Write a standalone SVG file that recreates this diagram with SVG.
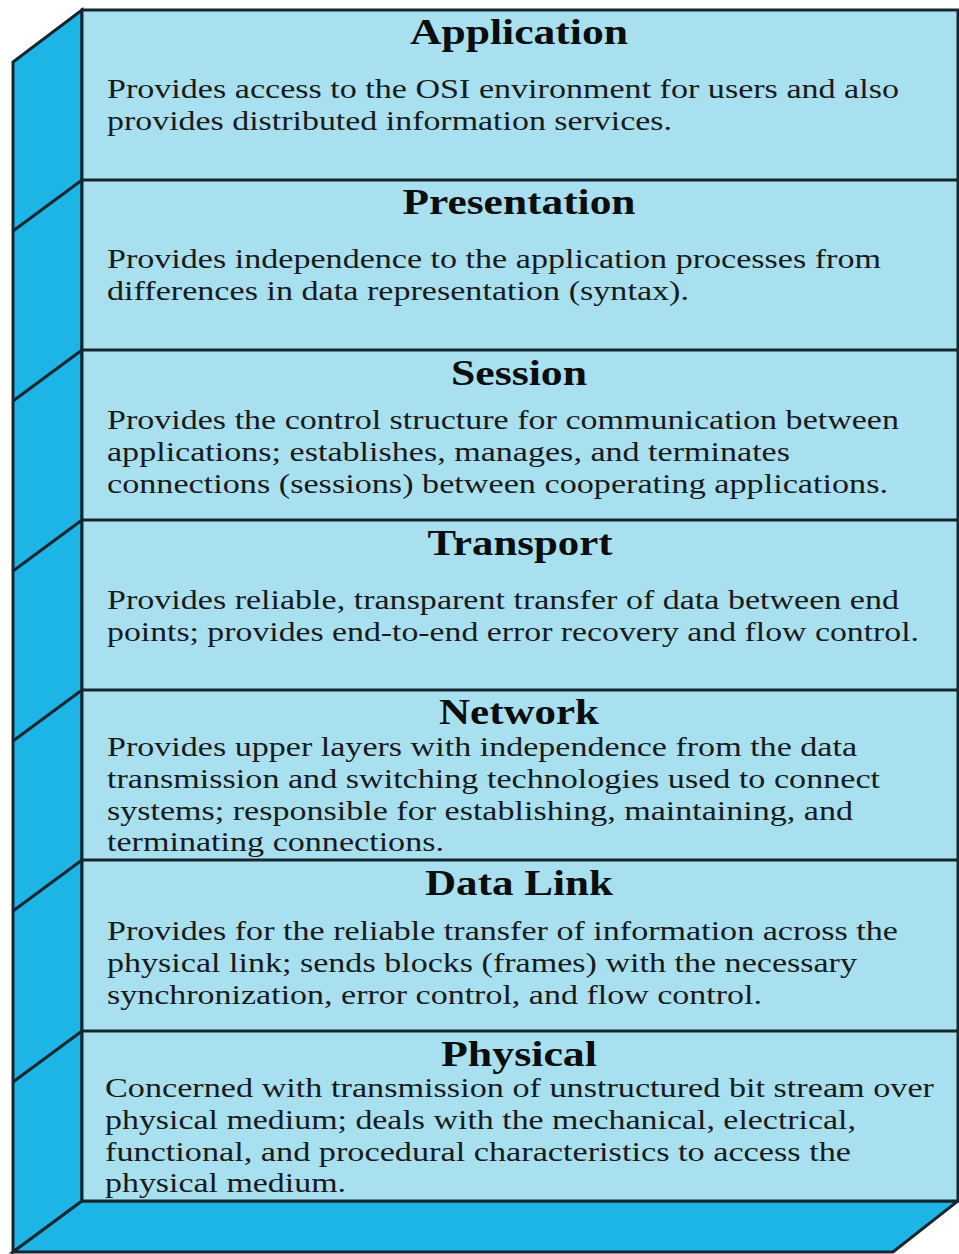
<svg xmlns="http://www.w3.org/2000/svg" width="959" height="1254" viewBox="0 0 959 1254">
<defs>
<style>
.front{fill:#a8e0f0;stroke:#16262e;stroke-width:3}
.side{fill:#1db4e6;stroke:#16262e;stroke-width:3;stroke-linejoin:miter}
.div{stroke:#16262e;stroke-width:3;fill:none}
.title{font-family:"Liberation Serif",serif;font-weight:bold;font-size:36px;fill:#0d0d0d;text-anchor:middle}
.body{font-family:"Liberation Serif",serif;font-size:26.5px;fill:#1a1a1a}
</style>
</defs>
<rect width="959" height="1254" fill="#ffffff"/>
<g id="box">
<polygon class="side" points="82,10 13,62 13,1252 82,1201"/>
<polygon class="side" points="82,1201 958,1201 893,1252 13,1252"/>
<rect class="front" x="82" y="10" width="876" height="1191"/>
</g>
<g id="connectors">
<line class="div" x1="82" y1="180" x2="13" y2="231"/>
<line class="div" x1="82" y1="350" x2="13" y2="401"/>
<line class="div" x1="82" y1="520" x2="13" y2="571"/>
<line class="div" x1="82" y1="690" x2="13" y2="741"/>
<line class="div" x1="82" y1="860" x2="13" y2="911"/>
<line class="div" x1="82" y1="1031" x2="13" y2="1082"/>
<line class="div" x1="82" y1="180" x2="958" y2="180"/>
<line class="div" x1="82" y1="350" x2="958" y2="350"/>
<line class="div" x1="82" y1="520" x2="958" y2="520"/>
<line class="div" x1="82" y1="690" x2="958" y2="690"/>
<line class="div" x1="82" y1="860" x2="958" y2="860"/>
<line class="div" x1="82" y1="1031" x2="958" y2="1031"/>
</g>
<g id="application">
<text class="title" x="519" y="44" textLength="218" lengthAdjust="spacingAndGlyphs">Application</text>
<text class="body" x="107" y="98" textLength="792" lengthAdjust="spacingAndGlyphs">Provides access to the OSI environment for users and also</text>
<text class="body" x="107" y="130" textLength="565" lengthAdjust="spacingAndGlyphs">provides distributed information services.</text>
</g>
<g id="presentation">
<text class="title" x="519" y="214" textLength="233" lengthAdjust="spacingAndGlyphs">Presentation</text>
<text class="body" x="107" y="268" textLength="774" lengthAdjust="spacingAndGlyphs">Provides independence to the application processes from</text>
<text class="body" x="107" y="300" textLength="582" lengthAdjust="spacingAndGlyphs">differences in data representation (syntax).</text>
</g>
<g id="session">
<text class="title" x="519" y="385" textLength="136" lengthAdjust="spacingAndGlyphs">Session</text>
<text class="body" x="107" y="429" textLength="792" lengthAdjust="spacingAndGlyphs">Provides the control structure for communication between</text>
<text class="body" x="107" y="461" textLength="683" lengthAdjust="spacingAndGlyphs">applications; establishes, manages, and terminates</text>
<text class="body" x="107" y="493" textLength="781" lengthAdjust="spacingAndGlyphs">connections (sessions) between cooperating applications.</text>
</g>
<g id="transport">
<text class="title" x="520" y="555" textLength="185" lengthAdjust="spacingAndGlyphs">Transport</text>
<text class="body" x="107" y="609" textLength="792" lengthAdjust="spacingAndGlyphs">Provides reliable, transparent transfer of data between end</text>
<text class="body" x="107" y="641" textLength="812" lengthAdjust="spacingAndGlyphs">points; provides end-to-end error recovery and flow control.</text>
</g>
<g id="network">
<text class="title" x="519" y="724" textLength="160" lengthAdjust="spacingAndGlyphs">Network</text>
<text class="body" x="107" y="756" textLength="750" lengthAdjust="spacingAndGlyphs">Provides upper layers with independence from the data</text>
<text class="body" x="107" y="788" textLength="773" lengthAdjust="spacingAndGlyphs">transmission and switching technologies used to connect</text>
<text class="body" x="107" y="820" textLength="746" lengthAdjust="spacingAndGlyphs">systems; responsible for establishing, maintaining, and</text>
<text class="body" x="107" y="851" textLength="337" lengthAdjust="spacingAndGlyphs">terminating connections.</text>
</g>
<g id="datalink">
<text class="title" x="519" y="895" textLength="188" lengthAdjust="spacingAndGlyphs">Data Link</text>
<text class="body" x="107" y="940" textLength="791" lengthAdjust="spacingAndGlyphs">Provides for the reliable transfer of information across the</text>
<text class="body" x="107" y="972" textLength="750" lengthAdjust="spacingAndGlyphs">physical link; sends blocks (frames) with the necessary</text>
<text class="body" x="107" y="1004" textLength="655" lengthAdjust="spacingAndGlyphs">synchronization, error control, and flow control.</text>
</g>
<g id="physical">
<text class="title" x="519" y="1066" textLength="156" lengthAdjust="spacingAndGlyphs">Physical</text>
<text class="body" x="105" y="1097" textLength="829" lengthAdjust="spacingAndGlyphs">Concerned with transmission of unstructured bit stream over</text>
<text class="body" x="105" y="1129" textLength="751" lengthAdjust="spacingAndGlyphs">physical medium; deals with the mechanical, electrical,</text>
<text class="body" x="105" y="1161" textLength="746" lengthAdjust="spacingAndGlyphs">functional, and procedural characteristics to access the</text>
<text class="body" x="105" y="1192" textLength="241" lengthAdjust="spacingAndGlyphs">physical medium.</text>
</g>
</svg>
